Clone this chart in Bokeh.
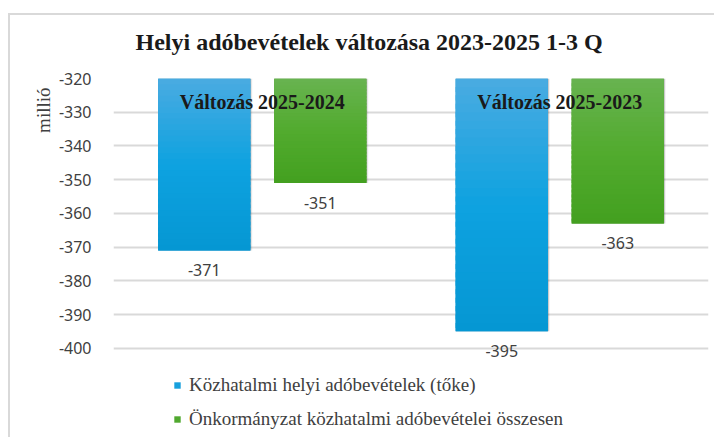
from bokeh.plotting import figure
from bokeh.models import (ColumnDataSource, FactorRange, Range1d, FixedTicker, Legend, LegendItem, Title)
from bokeh.transform import dodge
from bokeh.core.properties import value
from bokeh.embed import file_html
from bokeh.resources import INLINE

title = "Helyi adóbevételek változása 2023-2025 1-3 Q"
categories = ["Változás 2025-2024", "Változás 2025-2023"]
series_names = ["Közhatalmi helyi adóbevételek (tőke)", "Önkormányzat közhatalmi adóbevételei összesen"]
toke = [-371, -395]
osszesen = [-351, -363]
y_ticks = [-320, -330, -340, -350, -360, -370, -380, -390, -400]
y_label = "millió"

y_top = max(y_ticks)
y_bottom = min(y_ticks)

# gradient stops (top -> bottom) for each series
blue_stops = [(0.0, (74, 171, 225)), (0.5, (14, 162, 224)), (1.0, (5, 151, 211))]
green_stops = [(0.0, (104, 179, 80)), (0.5, (82, 171, 47)), (1.0, (67, 160, 31))]
blue = "#17a0dd"
green = "#50a82f"

src = ColumnDataSource(dict(
    cat=categories,
    toke=toke,
    osszesen=osszesen,
    toke_lbl=[str(v) for v in toke],
    ossz_lbl=[str(v) for v in osszesen],
    base=[y_top] * len(categories),
))


def stop_color(stops, t):
    for (t0, c0), (t1, c1) in zip(stops[:-1], stops[1:]):
        if t <= t1:
            f = (t - t0) / (t1 - t0)
            c = [round(a + (b - a) * f) for a, b in zip(c0, c1)]
            return "#%02x%02x%02x" % tuple(c)
    return "#%02x%02x%02x" % stops[-1][1]


def bands(values, stops, n=30):
    cat, top, bot, col = [], [], [], []
    for c, v in zip(categories, values):
        h = y_top - v
        for i in range(n):
            t0 = y_top - h * i / n
            t1 = y_top - h * min(i + 1.6, n) / n
            cat.append(c)
            top.append(t0)
            bot.append(t1)
            col.append(stop_color(stops, (i + 0.5) / n))
    return ColumnDataSource(dict(cat=cat, top=top, bot=bot, col=col))


W, H = 706, 424
p = figure(width=W, height=H, x_range=FactorRange(*categories),
           y_range=Range1d(y_bottom - 25, y_top), title=None,
           output_backend="svg", toolbar_location=None,
           min_border_left=103, min_border_right=8, min_border_top=63, min_border_bottom=7)
p.styles = {"border-left": "2px solid #d9d9d9", "border-top": "2px solid #d9d9d9",
            "margin-left": "8px", "margin-top": "13px"}

p.outline_line_color = None
p.background_fill_color = "white"
p.border_fill_color = "white"

off = 0.195
w = 0.31

# soft shadows
for col, dx in (("toke", -off), ("osszesen", off)):
    for k, a in ((1.2, 0.06), (0.7, 0.10), (0.35, 0.14)):
        p.vbar(x=dodge("cat", dx + 0.0035 * k, range=p.x_range), top="base", bottom=col,
               width=w + 0.004 * k, source=src, fill_color="#000000", fill_alpha=a,
               line_color=None)

r1 = p.vbar(x=dodge("cat", -off, range=p.x_range), top="base", bottom="toke", width=w,
            source=src, fill_color=blue, line_color=None)
r2 = p.vbar(x=dodge("cat", off, range=p.x_range), top="base", bottom="osszesen", width=w,
            source=src, fill_color=green, line_color=None)

p.vbar(x=dodge("cat", -off, range=p.x_range), top="top", bottom="bot", width=w,
       source=bands(toke, blue_stops), fill_color="col", line_color=None)
p.vbar(x=dodge("cat", off, range=p.x_range), top="top", bottom="bot", width=w,
       source=bands(osszesen, green_stops), fill_color="col", line_color=None)

# value labels
for col, lbl, dx in (("toke", "toke_lbl", -off), ("osszesen", "ossz_lbl", off)):
    p.text(x=dodge("cat", dx, range=p.x_range), y=col, text=lbl, source=src,
           text_align="center", text_baseline="middle", y_offset=20,
           text_font=value("Noto Sans"), text_font_size="16px", text_color="#404040")

# category labels at top
p.text(x="cat", y="base", text="cat", source=src, text_align="center", text_baseline="middle",
       y_offset=23, text_font=value("Liberation Serif"), text_font_style="bold",
       text_font_size="20px", text_color="#1a1a1a")

p.xaxis.visible = False
p.xgrid.grid_line_color = None
p.yaxis.ticker = FixedTicker(ticks=y_ticks)
p.yaxis.major_label_overrides = {t: str(t) for t in y_ticks}
p.yaxis.axis_line_color = None
p.yaxis.major_tick_line_color = None
p.yaxis.minor_tick_line_color = None
p.yaxis.major_label_standoff = 16
p.yaxis.major_label_text_font = "Noto Sans"
p.yaxis.major_label_text_font_size = "16px"
p.yaxis.major_label_text_color = "#404040"
p.ygrid.grid_line_color = "#d9d9d9"
p.ygrid.grid_line_width = 2

# spacer between the frame and the title, then the title itself
p.add_layout(Title(text=" ", text_font_size="1px", standoff=21), "above")
main_title = Title(text=title, align="left", offset=22, standoff=0)
main_title.text_font = "Liberation Serif"
main_title.text_font_style = "bold"
main_title.text_font_size = "24px"
main_title.text_color = "#1a1a1a"
p.add_layout(main_title, "above")

ylab = Title(text=y_label, align="right", offset=9, standoff=4)
ylab.text_font = "Liberation Serif"
ylab.text_font_size = "19px"
ylab.text_font_style = "normal"
ylab.text_color = "#404040"
p.add_layout(ylab, "left")

legend = Legend(items=[LegendItem(label=series_names[0], renderers=[r1]),
                       LegendItem(label=series_names[1], renderers=[r2])],
                location=(60, 2), orientation="vertical")
legend.padding = 0
legend.margin = 0
legend.spacing = 12
legend.glyph_width = 8
legend.glyph_height = 8
legend.label_height = 20
legend.label_standoff = 8
legend.border_line_color = None
legend.background_fill_alpha = 0
legend.label_text_font = "Liberation Serif"
legend.label_text_font_size = "19px"
legend.label_text_color = "#404040"
p.add_layout(legend, "center")

open("out.html", "w").write(file_html(p, INLINE))
